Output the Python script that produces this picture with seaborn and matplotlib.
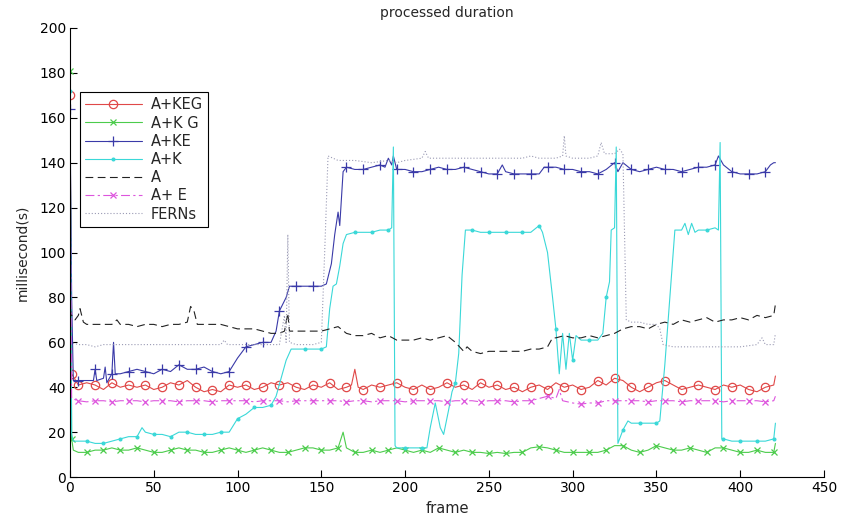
import matplotlib
matplotlib.use("Agg")
import matplotlib.pyplot as plt
import seaborn as sns

# ---- data: (frame, milliseconds) ----
keg = [(0,170),(1,46),(5,41),(10,42),(15,41),(20,39),(25,42),(30,40),(35,41),(40,40),(45,41),(50,39),
       (55,40),(60,42),(65,41),(70,43),(75,40),(80,38),(85,39),(90,38),(95,41),(100,40),(105,41),(110,39),
       (115,40),(120,42),(125,41),(130,42),(135,40),(140,39),(145,41),(150,40),(155,42),(160,39),(165,40),
       (168,41),(170,48),(172,40),(175,39),(180,41),(185,40),(190,41),(195,42),(200,40),(205,39),(210,41),
       (215,39),(220,40),(225,42),(230,40),(235,41),(240,39),(245,42),(250,40),(255,41),(260,39),(265,40),
       (270,38),(275,40),(280,41),(285,39),(290,42),(295,40),(300,41),(305,39),(310,40),(315,43),(320,41),
       (325,44),(330,43),(335,40),(340,38),(345,40),(350,42),(355,43),(360,41),(365,39),(370,40),(375,41),
       (380,40),(385,39),(390,41),(395,40),(400,41),(405,39),(410,38),(415,40),(420,41),(421,45)]

kg = [(0,181),(1,17),(2,12),(5,11),(10,11),(15,12),(20,12),(25,13),(30,12),(35,12),(40,13),(45,12),(50,11),
      (55,11),(60,12),(65,13),(70,12),(75,12),(80,11),(85,11),(90,12),(95,13),(100,12),(105,11),(110,12),
      (115,13),(120,12),(125,11),(130,11),(135,12),(140,13),(145,13),(150,12),(155,12),(160,13),(163,20),
      (165,13),(170,11),(175,11),(180,12),(185,11),(190,12),(195,13),(200,12),(205,11),(210,12),(215,11),
      (220,13),(225,12),(230,11),(235,12),(240,11),(245,11),(250,10.5),(255,11),(260,10.5),(265,11),(270,11),
      (275,13),(280,13.5),(285,13),(290,12),(295,11),(300,11),(305,11),(310,11),(315,11),(320,12),(325,14),
      (330,14),(335,12),(340,11),(345,12),(350,14),(355,13),(360,12),(365,12),(370,13),(375,12),(380,11),
      (385,13),(390,13),(395,12),(400,11),(405,11),(410,12),(415,11),(420,11),(421,15)]

ke = [(0,164),(1,80),(2,43),(5,43),(10,43),(14,43),(15,48),(16,43),(20,44),(21,49),(22,42),(25,46),(26,60),
      (27,46),(30,46),(35,47),(40,48),(45,47),(50,46),(55,48),(60,47),(65,50),(70,48),(75,48),(80,49),(85,47),
      (90,46),(95,47),(100,53),(105,58),(110,59),(115,60),(120,60),(123,65),(125,74),(127,77),(129,80),
      (131,85),(135,85),(140,85),(145,85),(150,85),(153,86),(156,95),(158,108),(160,118),(161,112),(163,136),
      (165,138),(170,137),(175,137),(180,138),(185,139),(188,138),(190,142),(192,139),(193,143),(195,137),
      (200,137),(205,136),(210,136),(215,137),(220,138),(225,137),(230,137),(235,138),(240,137),(245,136),
      (250,135),(255,135),(258,139),(260,136),(265,135),(270,135),(275,135),(280,135),(283,138),(285,138),
      (290,138),(295,137),(300,137),(305,136),(310,136),(315,135),(320,137),(325,140),(327,136),(330,140),
      (335,137),(340,136),(345,137),(350,138),(355,137),(360,137),(365,136),(370,137),(375,138),(380,138),
      (385,139),(387,143),(390,139),(395,136),(400,135),(405,135),(410,135),(415,136),(418,139),(420,140),
      (421,140)]

k = [(0,172),(1,19),(2,16),(5,16),(10,16),(15,15),(20,15),(25,16),(30,17),(35,18),(40,18),(43,22),(45,20),
     (50,19),(55,19),(60,18),(65,20),(70,20),(75,19),(80,19),(85,19),(90,20),(95,20),(100,26),(105,28),
     (110,31),(115,31),(120,32),(123,36),(126,44),(129,52),(132,57),(135,57),(140,57),(145,57),(150,57),
     (153,58),(155,75),(157,85),(159,86),(161,94),(163,104),(165,108),(170,109),(175,109),(180,109),
     (185,110),(190,110),(192,111),(193,147),(194,14),(195,13),(200,13),(205,13),(210,13),(213,13),(215,22),
     (218,33),(221,22),(223,19),(226,30),(228,38),(230,42),(232,55),(234,90),(236,110),(240,110),(245,109),
     (250,109),(255,109),(260,109),(265,109),(270,109),(275,109),(280,112),(282,109),(285,100),(288,80),
     (290,66),(292,46),(294,64),(296,48),(298,64),(300,52),(302,63),(305,61),(310,61),(315,61),(318,64),
     (320,80),(322,87),(323,110),(325,111),(326,147),(327,15),(330,21),(333,25),(335,24),(340,24),(345,24),
     (350,24),(352,25),(355,50),(358,80),(361,110),(365,110),(367,113),(369,108),(371,113),(373,109),
     (375,110),(380,110),(385,111),(387,110),(388,149),(389,17),(390,17),(395,16),(400,16),(405,16),
     (410,16),(415,16),(420,17),(421,24)]

a = [(0,75),(1,72),(3,70),(5,72),(6,75),(8,69),(10,68),(15,68),(20,68),(25,68),(28,70),(30,68),(35,68),
     (40,67),(45,68),(50,68),(55,67),(60,68),(65,68),(70,69),(72,76),(74,74),(76,68),(80,68),(85,68),(90,68),
     (95,67),(100,66),(105,66),(110,66),(115,65),(120,64),(125,64),(128,65),(130,73),(131,65),(135,65),
     (140,65),(145,65),(150,65),(155,66),(160,67),(165,64),(170,63),(175,63),(180,64),(185,62),(190,63),
     (195,61),(200,61),(205,61),(210,62),(215,61),(220,62),(225,63),(230,60),(235,56),(237,58),(240,56),
     (245,55),(250,56),(255,56),(260,56),(265,56),(270,56),(275,57),(280,57),(285,58),(288,62),(290,62),
     (295,63),(300,62),(305,62),(310,63),(315,62),(320,63),(325,64),(330,66),(335,67),(340,67),(345,66),
     (350,68),(355,69),(360,68),(365,70),(370,69),(375,70),(380,71),(385,69),(390,70),(395,70),(400,71),
     (405,70),(410,72),(415,71),(420,72),(421,77)]

ae = [(0,150),(1,35),(5,34),(10,33.5),(15,34),(20,34),(25,33.5),(30,34),(35,34),(40,34),(45,33.5),(50,34),
      (55,34),(60,34),(65,33.5),(70,34),(75,34),(80,34),(85,33.5),(90,34),(95,34),(100,34),(105,34),
      (110,33.5),(115,34),(120,34),(125,34),(130,33.5),(135,34),(140,34),(145,34),(150,34),(155,34),(160,34),
      (165,33.5),(170,34),(175,34),(180,33.5),(185,34),(190,34),(195,34),(200,33.5),(205,34),(210,34),
      (215,34),(220,34),(225,33.5),(230,34),(235,34),(240,34),(245,33.5),(250,34),(255,34),(260,34),
      (265,33.5),(270,34),(275,34),(280,35),(285,36),(290,35),(292,39),(294,34),(300,33),(305,32.5),(310,33),
      (315,33),(320,34),(325,34),(330,34),(335,34),(340,34),(345,33.5),(350,34),(355,34),(360,34),(365,33.5),
      (370,34),(375,34),(380,34),(385,34),(390,33.5),(395,34),(400,34),(405,34),(410,34),(415,33.5),(420,34),
      (421,36)]

ferns = [(0,60),(5,59),(10,59),(15,58),(20,59),(25,59),(30,59),(40,59),(50,59),(60,59),(70,59),(80,59),
         (90,59),(92,61),(94,59),(100,59),(110,59),(120,59),(125,59),(128,72),(129,60),(130,108),(131,60),
         (135,59),(140,59),(145,59),(150,60),(152,100),(154,143),(160,141),(170,141),(180,140),(190,141),
         (195,140),(200,141),(210,142),(212,145),(214,142),(220,142),(230,142),(240,142),(250,142),(260,142),
         (270,142),(275,143),(280,142),(290,142),(294,143),(295,152),(296,143),(300,142),(310,142),(315,143),
         (317,149),(319,144),(325,144),(328,146),(330,144),(332,70),(335,69),(340,69),(345,68),(350,68),
         (352,66),(354,59),(360,58),(370,58),(380,58),(390,58),(400,58),(410,59),(413,62),(415,59),(420,59),
         (421,64)]

labels = ["A+KEG", "A+K G", "A+KE", "A+K", "A", "A+ E", "FERNs"]
x_ticks = list(range(0, 451, 50))
y_ticks = list(range(0, 201, 20))

sns.set_theme(style="white")
plt.rcParams['font.family'] = ['DejaVu Sans']

fig = plt.figure(figsize=(8.41, 5.18), dpi=100)
ax = fig.add_axes([0.0832, 0.079, 0.8966, 0.867])

styles = [
    (keg,   dict(color="#e04848", marker="o", markersize=6, markerfacecolor="none", linestyle="-"), {0, 1}, 5),
    (kg,    dict(color="#4ccc4c", marker="x", markersize=5, linestyle="-"), {0, 1}, 0),
    (ke,    dict(color="#3a3aa8", marker="+", markersize=7, linestyle="-"), {0}, 5),
    (k,     dict(color="#3ad8d8", marker=".", markersize=4, linestyle="-"), set(), 0),
    (a,     dict(color="#222222", marker=None, linestyle=(0, (7, 4))), set(), -1),
    (ae,    dict(color="#dd55dd", marker="x", markersize=5, linestyle=(0, (8, 3, 2, 3))), set(), 5),
    (ferns, dict(color="#9a9ab4", marker=None, linestyle=(0, (1, 1.8))), set(), -1),
]

for label, (pts, st, extra, r) in zip(labels, styles):
    fx = [p[0] for p in pts]
    fy = [p[1] for p in pts]
    kw = dict(st)
    if kw.get("marker"):
        kw["markevery"] = [i for i, f in enumerate(fx) if f in extra or f % 10 == r]
        kw["markeredgecolor"] = kw["color"]
        kw["markeredgewidth"] = 0.9
    else:
        kw.pop("marker", None)
    sns.lineplot(x=fx, y=fy, ax=ax, label=label, linewidth=0.8, sort=False,
                 estimator=None, legend=False, **kw)

ax.set_xlim(0, 450)
ax.set_ylim(0, 200)
ax.set_xticks(x_ticks)
ax.set_yticks(y_ticks)
ax.tick_params(direction="in", length=5, width=0.8, bottom=True, left=True,
               top=False, right=False, labelsize=10, colors="black", pad=3)
for s in ["top", "right"]:
    ax.spines[s].set_visible(False)
for s in ["left", "bottom"]:
    ax.spines[s].set_color("black")
    ax.spines[s].set_linewidth(0.8)

ax.set_title("processed duration", fontsize=10, pad=8)
ax.set_xlabel("frame", fontsize=10.5, labelpad=4)
ax.set_ylabel("millisecond(s)", fontsize=10, labelpad=7)

h, l = ax.get_legend_handles_labels()
leg = ax.legend(h, l, loc="upper left", bbox_to_anchor=(0.013, 0.857), frameon=True,
                fancybox=False, edgecolor="black", framealpha=1, fontsize=10.5,
                handlelength=3.9, handletextpad=0.6, labelspacing=0.22,
                borderpad=0.35, borderaxespad=0)
leg.get_frame().set_linewidth(0.8)

fig.savefig("out.png", dpi=100)
